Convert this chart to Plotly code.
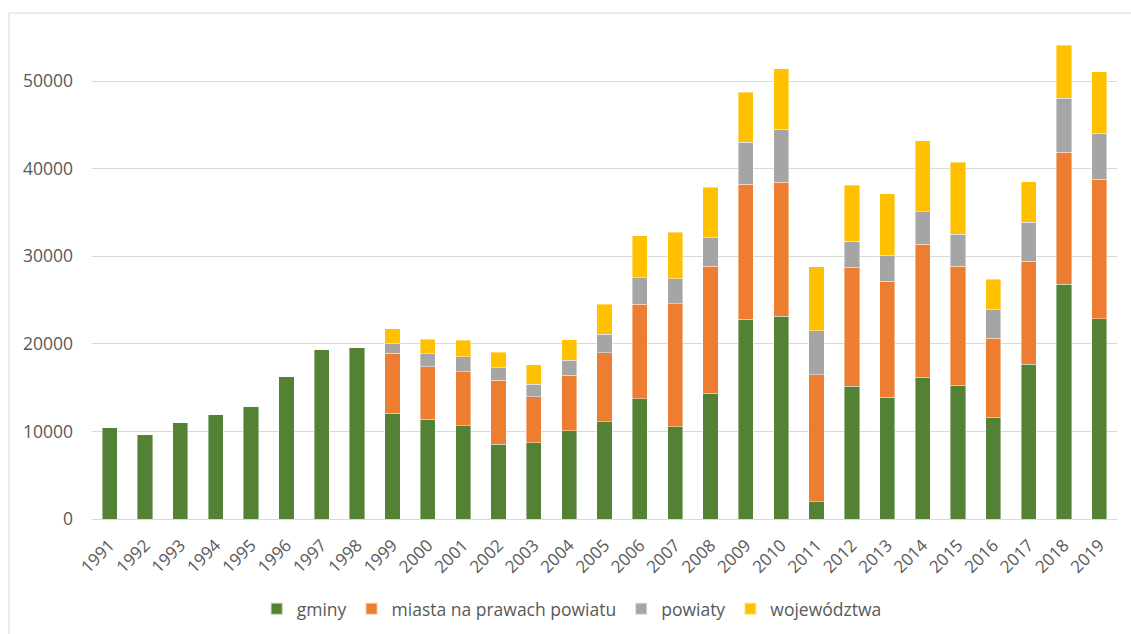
import plotly.graph_objects as go

years = [str(y) for y in range(1991, 2020)]
gminy = [10500, 9600, 11000, 11900, 12850, 16280, 19400, 19630,
         12070, 11420, 10660, 8530, 8710, 10050, 11110, 13740, 10540, 14350,
         22800, 23180, 1980, 15140, 13930, 16210, 15250, 11600, 17700, 26800, 22870]
miasta = [0, 0, 0, 0, 0, 0, 0, 0,
          6850, 5970, 6160, 7310, 5260, 6390, 7880, 10780, 14050, 14520,
          15420, 15270, 14500, 13600, 13220, 15160, 13640, 9020, 11730, 15080, 15920]
powiaty = [0, 0, 0, 0, 0, 0, 0, 0,
           1070, 1490, 1720, 1440, 1410, 1680, 2100, 3040, 2850, 3250,
           4830, 6050, 4990, 2970, 2960, 3690, 3620, 3250, 4450, 6160, 5290]
wojewodztwa = [0, 0, 0, 0, 0, 0, 0, 0,
               1740, 1640, 1900, 1790, 2210, 2360, 3460, 4790, 5300, 5790,
               5680, 6890, 7340, 6400, 7010, 8140, 8220, 3500, 4640, 6090, 7000]

series = [
    ("gminy", gminy, "#548235"),
    ("miasta na prawach powiatu", miasta, "#ED7D31"),
    ("powiaty", powiaty, "#A5A5A5"),
    ("województwa", wojewodztwa, "#FFC000"),
]

fig = go.Figure()
for name, vals, col in series:
    fig.add_trace(go.Bar(
        x=years, y=vals, name=name,
        marker=dict(color=col, line=dict(color="rgba(255,255,255,0.6)", width=0.7)),
    ))

font = "Open Sans, Noto Sans, sans-serif"
fig.update_layout(
    barmode="stack",
    bargap=0.57,
    width=1131, height=634,
    margin=dict(l=92, r=14, t=33, b=115, autoexpand=False),
    paper_bgcolor="white", plot_bgcolor="white",
    font=dict(family=font, size=17, color="#595959"),
    showlegend=True,
    legend=dict(orientation="h", x=0.468, xanchor="center", y=-0.185, yanchor="middle",
                font=dict(size=17.5, color="#595959"), itemwidth=30,
                traceorder="normal", itemsizing="constant"),
    xaxis=dict(tickangle=-45, showgrid=False, showline=False, ticks="",
               automargin=False, ticklabelstandoff=12,
               tickfont=dict(size=17, color="#595959")),
    yaxis=dict(range=[0, 55500], tickvals=[0, 10000, 20000, 30000, 40000, 50000],
               ticktext=["0", "10000", "20000", "30000", "40000", "50000"],
               showgrid=True, gridcolor="#D9D9D9", gridwidth=1,
               zeroline=True, zerolinecolor="#D9D9D9", zerolinewidth=1,
               showline=False, ticks="", ticklabelstandoff=18, automargin=False,
               tickfont=dict(size=17.5, color="#595959")),
    shapes=[dict(type="rect", xref="paper", yref="paper",
                 x0=(9 - 92) / 1025, x1=(1140 - 92) / 1025,
                 y0=(519 - 645) / 486, y1=(519 - 13) / 486,
                 line=dict(color="#D9D9D9", width=1), fillcolor="rgba(0,0,0,0)",
                 layer="below")],
)

fig.write_html("out.html")
